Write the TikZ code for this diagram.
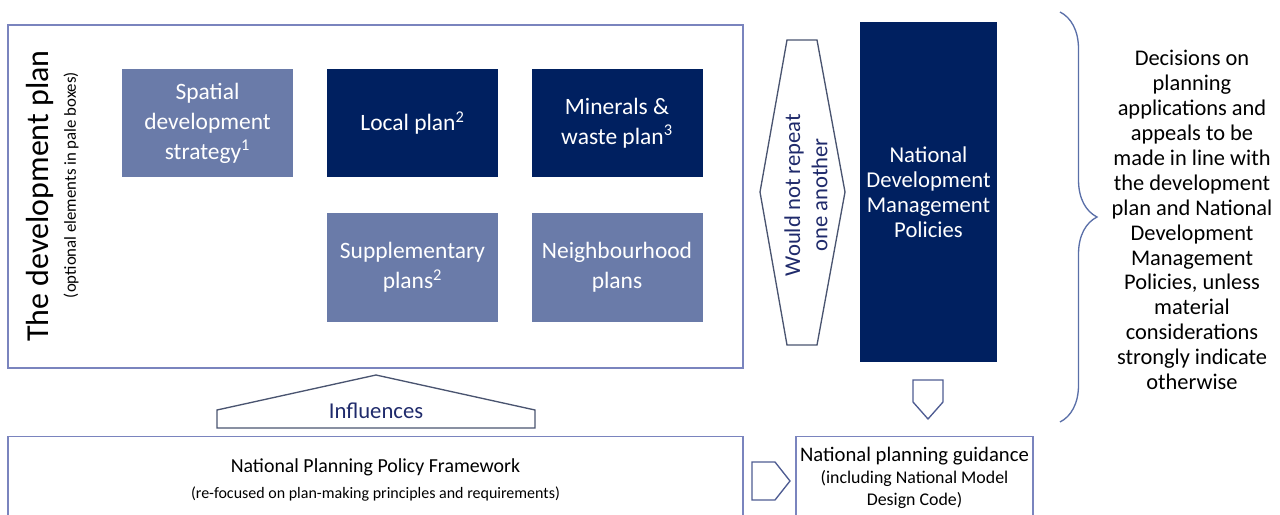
\documentclass[tikz,border=0pt]{standalone}
\usepackage{fontspec}
\setmainfont{Carlito}
\usetikzlibrary{decorations.pathreplacing}

\definecolor{navyfill}{HTML}{002060}
\definecolor{palefill}{HTML}{6A7BA9}
\definecolor{framecol}{HTML}{7A84BE}
\definecolor{shapecol}{HTML}{4A5470}
\definecolor{arrowcol}{HTML}{4E5C92}
\definecolor{navytext}{HTML}{1F2A6B}
\definecolor{bracecol}{HTML}{5A6FA8}

\begin{document}
\begin{tikzpicture}[x=0.75pt,y=-0.75pt]
\tikzset{
  planbox/.style={rectangle,minimum width=128.25pt,minimum height=81pt,inner sep=2pt,text=white,align=center,font=\fontsize{17.6}{22.5}\selectfont},
  darkbox/.style={planbox,fill=navyfill},
  palebox/.style={planbox,fill=palefill},
  framebox/.style={rectangle,draw=framecol,line width=1.2pt},
  blockshape/.style={draw=shapecol,line width=1pt,line join=miter},
  blockarrow/.style={draw=arrowcol,line width=1pt,line join=miter}
}
\useasboundingbox (0,0) rectangle (1280,514);
% development plan frame
\node[framebox,minimum width=551.25pt,minimum height=257.25pt] (devplan) at (375.5,196.5) {};
\node[rotate=90,font=\fontsize{24}{28}\selectfont] (devtitle) at (40,196) {The development plan};
\node[rotate=90,font=\fontsize{12.6}{14}\selectfont] (devsub) at (71,185) {(optional elements in pale boxes)};
\node[palebox] (spatial) at (207.5,123) {Spatial\\development\\strategy\textsuperscript{1}};
\node[darkbox] (local) at (412.5,123) {Local plan\textsuperscript{2}};
\node[darkbox] (minerals) at (617,123) {Minerals \&\\waste plan\textsuperscript{3}};
\node[palebox,minimum height=81.75pt] (supplementary) at (412.5,267.5) {Supplementary\\plans\textsuperscript{2}};
\node[palebox,minimum height=81.75pt] (neighbourhood) at (617,267.5) {Neighbourhood\\plans};
% would not repeat
\draw[blockshape] (760,192) -- (787,40) -- (817,40) -- (845,192) -- (817,345) -- (787,345) -- cycle;
\node[rotate=90,align=center,text=navytext,font=\fontsize{17}{20.5}\selectfont] (norepeat) at (806,195) {Would not repeat\\one another};
% national policies
\node[darkbox,minimum width=102.75pt,minimum height=255pt,font=\fontsize{17}{18.75}\selectfont] (ndmp) at (928.5,192) {National\\Development\\Management\\Policies};
\draw[blockarrow] (913,380) -- (943,380) -- (943,402) -- (928,419) -- (913,402) -- cycle;
% influences
\draw[blockshape] (217,428) -- (217,410) -- (376,375) -- (535,410) -- (535,428) -- cycle;
\node[text=navytext,font=\fontsize{17}{19}\selectfont] (influences) at (376,411) {Influences};
% bottom row
\node[framebox,minimum width=551.25pt,minimum height=60.75pt] (nppf) at (375.5,477) {};
\node[align=center,font=\fontsize{14.9}{19.5}\selectfont] (nppftext) at (375.5,480) {National Planning Policy Framework\\{\fontsize{12}{19.5}\selectfont (re-focused on plan-making principles and requirements)}};
\draw[blockarrow] (752,462) -- (775,462) -- (790,481) -- (775,500) -- (752,500) -- cycle;
\node[framebox,minimum width=177.75pt,minimum height=60.75pt] (guidance) at (914.5,477) {};
\node[align=center,font=\fontsize{13.4}{16.5}\selectfont] (guidtext) at (914.5,478) {{\fontsize{15.5}{16.5}\selectfont National planning guidance}\\(including National Model\\Design Code)};
% decisions
\draw[bracecol,line width=1pt,decorate,decoration={brace,amplitude=27.75pt}] (1060,12) -- (1060,422);
\node[align=center,font=\fontsize{16.8}{18.7}\selectfont] (decisions) at (1192,220) {Decisions on\\planning\\applications and\\appeals to be\\made in line with\\the development\\plan and National\\Development\\Management\\Policies, unless\\material\\considerations\\strongly indicate\\otherwise};
\end{tikzpicture}
\end{document}
